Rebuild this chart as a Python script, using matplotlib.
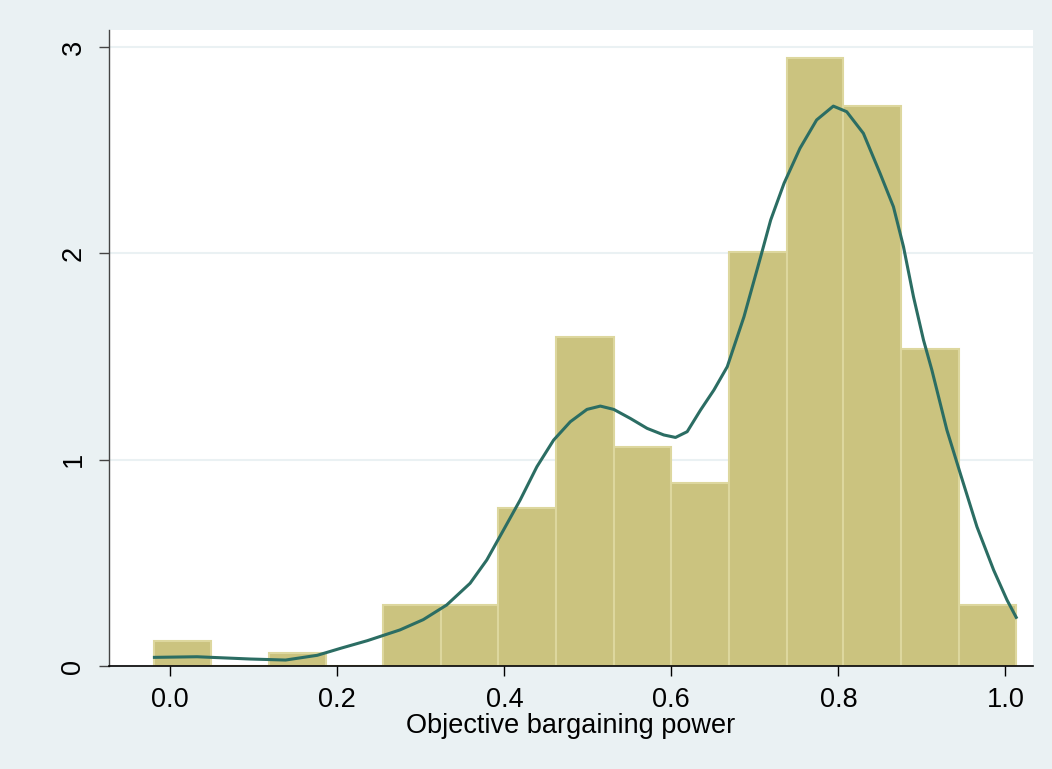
import matplotlib
matplotlib.use("Agg")
import matplotlib.pyplot as plt

# histogram of objective bargaining power (density scale)
bin_edges = [-0.020, 0.049, 0.118, 0.187, 0.255, 0.324, 0.393, 0.462,
             0.531, 0.600, 0.669, 0.738, 0.806, 0.875, 0.944, 1.013]
density = [0.121, 0.0, 0.061, 0.0, 0.296, 0.296, 0.764, 1.593,
           1.063, 0.886, 2.005, 2.949, 2.714, 1.535, 0.296]

# kernel density curve
kde_x = [-0.019, 0.032, 0.096, 0.138, 0.176, 0.204, 0.236, 0.275, 0.303,
         0.331, 0.359, 0.379, 0.399, 0.419, 0.439, 0.459, 0.479, 0.499,
         0.515, 0.531, 0.551, 0.571, 0.591, 0.605, 0.619, 0.635, 0.651,
         0.667, 0.687, 0.707, 0.719, 0.735, 0.754, 0.774, 0.794, 0.810,
         0.830, 0.850, 0.866, 0.878, 0.890, 0.902, 0.912, 0.930, 0.946,
         0.966, 0.986, 1.002, 1.013]
kde_y = [0.042, 0.045, 0.034, 0.029, 0.052, 0.086, 0.123, 0.175, 0.225,
         0.296, 0.401, 0.514, 0.659, 0.805, 0.966, 1.095, 1.184, 1.244,
         1.260, 1.244, 1.200, 1.152, 1.120, 1.108, 1.136, 1.241, 1.338,
         1.451, 1.693, 1.984, 2.162, 2.340, 2.509, 2.647, 2.714, 2.687,
         2.582, 2.388, 2.226, 2.033, 1.790, 1.580, 1.435, 1.144, 0.934,
         0.675, 0.465, 0.320, 0.236]

xticks = [0.0, 0.2, 0.4, 0.6, 0.8, 1.0]
yticks = [0, 1, 2, 3]

bg = "#eaf1f3"
bar_col = "#cbc37f"
edge_col = "#ddd79e"
line_col = "#2b6d63"

plt.rcParams['font.family'] = ['Liberation Sans', 'DejaVu Sans']

fig = plt.figure(figsize=(10.52, 7.69), dpi=100, facecolor=bg)
ax = fig.add_axes([0.1033, 0.1339, 0.8787, 0.8271])
ax.set_facecolor("white")

lefts = bin_edges[:-1]
widths = [b - a for a, b in zip(bin_edges[:-1], bin_edges[1:])]
ax.bar(lefts, density, width=widths, align='edge', color=bar_col,
       edgecolor=edge_col, linewidth=1.5, zorder=2)
ax.plot(kde_x, kde_y, color=line_col, linewidth=2.2, zorder=3,
        solid_joinstyle='round')

ax.set_xlim(-0.0738, 1.0332)
ax.set_ylim(0, 3.083)

ax.set_yticks(yticks)
ax.set_yticklabels([str(v) for v in yticks], rotation=90, va='center')
ax.set_xticks(xticks)
ax.set_xticklabels(["%.1f" % v for v in xticks])
ax.grid(axis='y', color=bg, linewidth=1.5, zorder=0)
ax.set_axisbelow(True)

for s in ['top', 'right']:
    ax.spines[s].set_visible(False)
ax.spines['left'].set_color("#444444")
ax.spines['bottom'].set_color("black")
ax.spines['left'].set_linewidth(1.0)
ax.spines['bottom'].set_linewidth(1.2)
ax.tick_params(axis='both', direction='out', length=7, width=1.0,
               labelsize=19.5, pad=8, colors="black")
ax.tick_params(axis='y', color="#444444", pad=9)

ax.set_xlabel("Objective bargaining power", fontsize=19.5, labelpad=0)

fig.savefig("out.png", dpi=100, facecolor=bg)
